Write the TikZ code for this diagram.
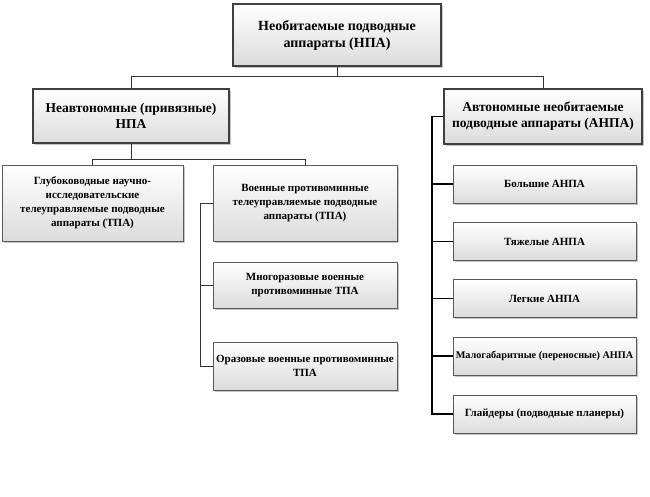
\documentclass[tikz,border=0pt]{standalone}
\usepackage{fontspec}
\setmainfont{Liberation Serif}
\usetikzlibrary{shadows}
\begin{document}
\begin{tikzpicture}[x=1pt,y=-1pt,
  box/.style={draw=black!65,line width=0.9pt,top color=white,bottom color=black!14,
    drop shadow={shadow xshift=1.8pt,shadow yshift=-1.8pt,fill=black!45},
    align=center,inner sep=1pt,font=\bfseries\fontsize{11}{14}\selectfont},
  headbox/.style={box,draw=black!75,line width=2.2pt,font=\bfseries\fontsize{14}{17}\selectfont},
  link/.style={draw=black!80,line width=0.8pt}]
\useasboundingbox[fill=white] (0,0) rectangle (650,496);
\node (npa) at (337,35) [headbox,minimum width=208pt,minimum height=62pt] {Необитаемые подводные\\аппараты (НПА)};
\node (neavt) at (131,116) [headbox,minimum width=196pt,minimum height=54pt,font=\bfseries\fontsize{13.5}{16}\selectfont] {Неавтономные (привязные)\\НПА};
\node (avt) at (543,116.5) [headbox,minimum width=198pt,minimum height=55pt,font=\bfseries\fontsize{13.5}{16}\selectfont] {Автономные необитаемые\\подводные аппараты (АНПА)};
\node (glub) at (92.5,203) [box,minimum width=181pt,minimum height=76pt] {Глубоководные научно-\\исследовательские\\телеуправляемые подводные\\аппараты (ТПА)};
\node (voen) at (305,203) [box,minimum width=184pt,minimum height=76pt] {Военные противоминные\\телеуправляемые подводные\\аппараты (ТПА)};
\node (mnog) at (305,285) [box,minimum width=184pt,minimum height=46pt] {Многоразовые военные\\противоминные ТПА};
\node (oraz) at (305,366) [box,minimum width=184pt,minimum height=48pt] {Оразовые военные противоминные\\ТПА};
\node (bolsh) at (544.5,184) [box,minimum width=183pt,minimum height=38pt] {Большие АНПА};
\node (tyazh) at (544.5,241.5) [box,minimum width=183pt,minimum height=38pt] {Тяжелые АНПА};
\node (legk) at (544.5,298.5) [box,minimum width=183pt,minimum height=38pt] {Легкие АНПА};
\node (malo) at (544.5,356) [box,minimum width=183pt,minimum height=38pt,inner sep=0pt,font=\bfseries\fontsize{10.2}{13}\selectfont] {Малогабаритные (переносные) АНПА};
\node (glaid) at (544.5,414) [box,minimum width=183pt,minimum height=38pt] {Глайдеры (подводные планеры)};
\draw[link] (npa.south) -- ++(0,9) coordinate (j1);
\draw[link] (neavt.north) |- (j1) -| (avt.north);
\draw[link] (neavt.south) -- ++(0,15) coordinate (j2);
\draw[link] (glub.north) |- (j2) -| (voen.north);
\draw[link] (voen.west) -- ++(-12,0) |- (oraz.west);
\draw[link] (mnog.west) -- ++(-12,0);
\draw[link,line width=1.2pt,draw=black] (avt.west) -- ++(-11,0) |- (glaid.west);
\foreach \n in {bolsh,tyazh,legk,malo}
  \draw[link,line width=1.2pt,draw=black] (\n.west) -- ++(-21,0);
\end{tikzpicture}
\end{document}
